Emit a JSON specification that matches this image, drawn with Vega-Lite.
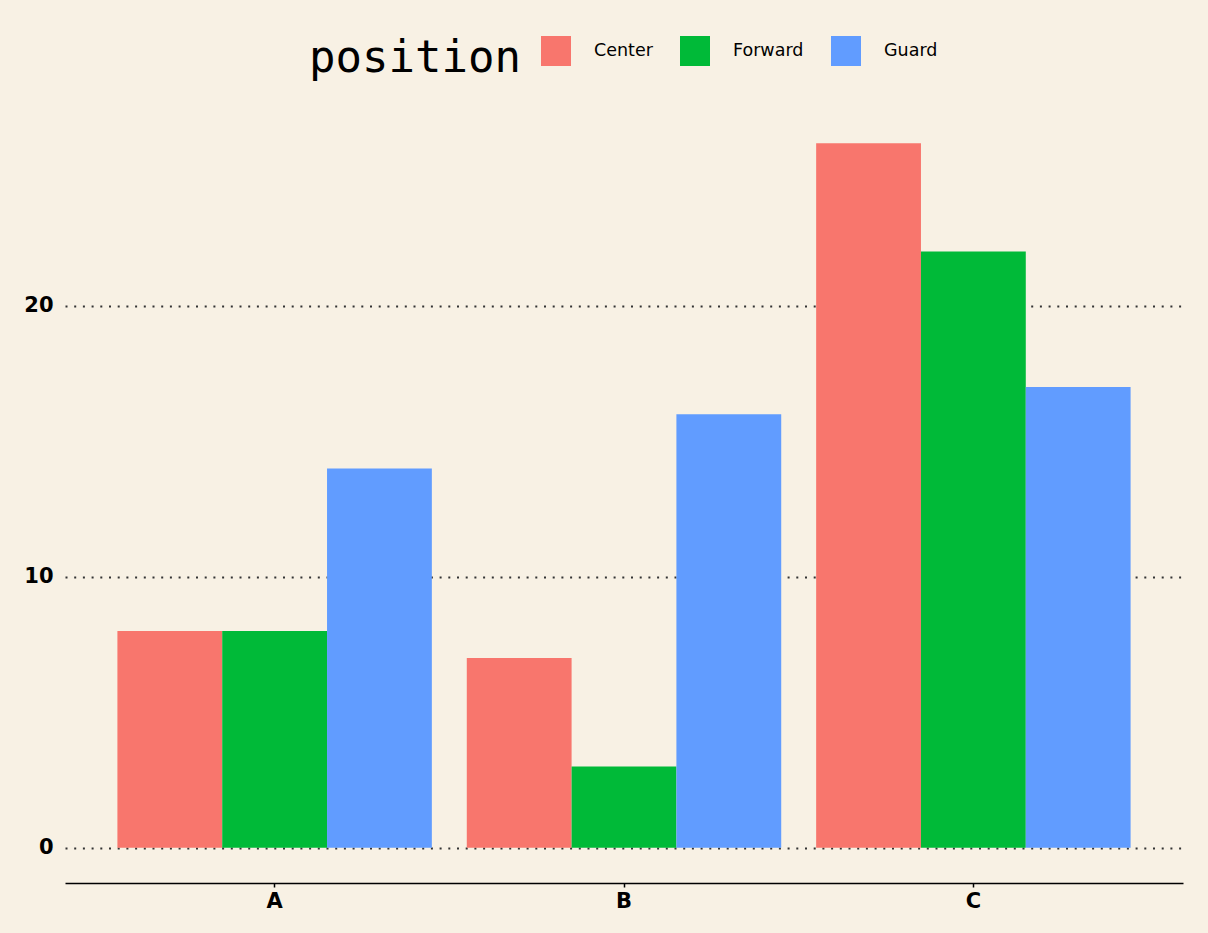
{
  "$schema": "https://vega.github.io/schema/vega-lite/v6.json",
  "width": 1118,
  "height": 775,
  "autosize": {"type": "none"},
  "padding": {"left": 65, "top": 108, "right": 25, "bottom": 50},
  "background": "#F8F1E4",
  "data": {
    "values": [
      {"group": "A", "position": "Center", "value": 8},
      {"group": "A", "position": "Forward", "value": 8},
      {"group": "A", "position": "Guard", "value": 14},
      {"group": "B", "position": "Center", "value": 7},
      {"group": "B", "position": "Forward", "value": 3},
      {"group": "B", "position": "Guard", "value": 16},
      {"group": "C", "position": "Center", "value": 26},
      {"group": "C", "position": "Forward", "value": 22},
      {"group": "C", "position": "Guard", "value": 17}
    ]
  },
  "mark": {"type": "bar"},
  "encoding": {
    "x": {
      "field": "group",
      "type": "nominal",
      "scale": {"paddingInner": 0.1, "paddingOuter": 0.15},
      "axis": {
        "title": null,
        "labelAngle": 0,
        "domain": true,
        "domainColor": "#000000",
        "domainWidth": 1.5,
        "ticks": true,
        "tickSize": 4,
        "tickColor": "#000000",
        "tickWidth": 1.5,
        "labelFont": "DejaVu Sans",
        "labelFontWeight": "bold",
        "labelFontSize": 21,
        "labelColor": "#000000",
        "labelPadding": 3,
        "grid": false
      }
    },
    "xOffset": {
      "field": "position",
      "type": "nominal",
      "scale": {"paddingInner": 0, "paddingOuter": 0}
    },
    "y": {
      "field": "value",
      "type": "quantitative",
      "scale": {"domain": [-1.3, 27.3], "nice": false, "zero": false},
      "axis": {
        "title": null,
        "values": [0, 10, 20],
        "domain": false,
        "ticks": false,
        "grid": true,
        "gridDash": [2, 6.7],
        "gridColor": "#333333",
        "gridWidth": 2,
        "labelFont": "DejaVu Sans",
        "labelFontWeight": "bold",
        "labelFontSize": 21,
        "labelColor": "#000000",
        "labelPadding": 12
      }
    },
    "color": {
      "field": "position",
      "type": "nominal",
      "scale": {
        "domain": ["Center", "Forward", "Guard"],
        "range": ["#F8766D", "#00BA38", "#619CFF"]
      },
      "legend": {
        "orient": "none",
        "legendX": 244,
        "legendY": -72,
        "direction": "horizontal",
        "titleOrient": "left",
        "title": "position",
        "titleFont": "DejaVu Sans Mono",
        "titleFontSize": 44,
        "titleFontWeight": "normal",
        "titleColor": "#000000",
        "titleLimit": 500,
        "titlePadding": 20,
        "titleAnchor": "end",
        "titleBaseline": "line-bottom",
        "titleLineHeight": 13.5,
        "symbolType": "square",
        "symbolSize": 900,
        "symbolStrokeWidth": 0,
        "symbolOpacity": 1,
        "labelFont": "DejaVu Sans",
        "labelFontSize": 17.5,
        "labelColor": "#000000",
        "labelOffset": 23,
        "columnPadding": 27
      }
    }
  },
  "config": {
    "view": {"stroke": null}
  }
}
